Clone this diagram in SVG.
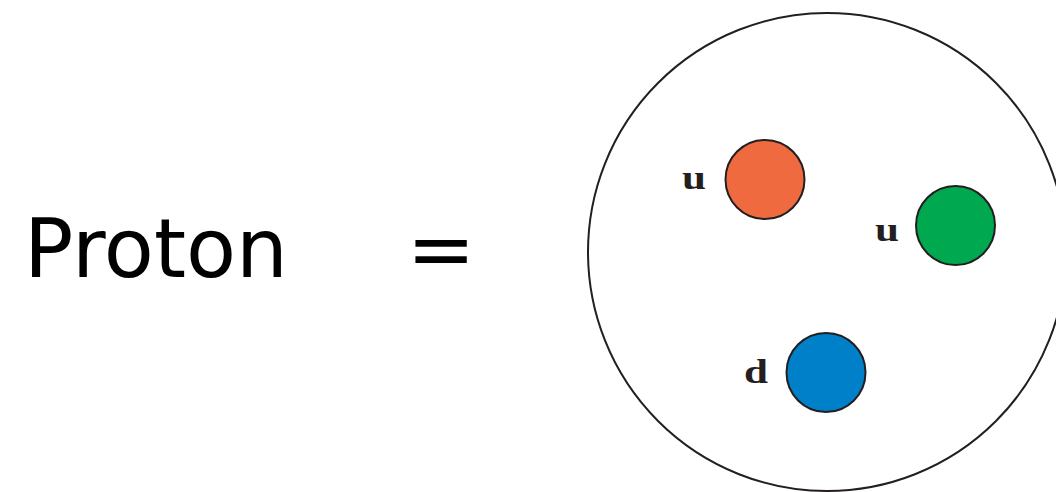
<svg xmlns="http://www.w3.org/2000/svg" width="1056" height="492" viewBox="0 0 1056 492">
<style>
.big{font-family:"DejaVu Sans",sans-serif;font-size:82px;fill:#000}
.q{font-family:"Liberation Serif","Times New Roman",serif;font-weight:bold;font-size:34px;fill:#231f20}
.ring{fill:none;stroke:#231f20;stroke-width:2}
.quark{stroke:#231f20;stroke-width:2}
</style>
<rect width="1056" height="492" fill="#fff"/>
<g id="proton-label"><text class="big" x="24" y="277" textLength="264" lengthAdjust="spacingAndGlyphs">Proton</text></g>
<g id="equals"><text class="big" x="441" y="277" text-anchor="middle">=</text></g>
<g id="proton"><circle class="ring" cx="827" cy="252" r="239"/></g>
<g id="quark-u1"><circle class="quark" cx="765" cy="179.5" r="39.5" fill="#EF6B3F"/><text class="q" x="682" y="189" textLength="24" lengthAdjust="spacingAndGlyphs">u</text></g>
<g id="quark-u2"><circle class="quark" cx="955.5" cy="225.5" r="39.5" fill="#00A94F"/><text class="q" x="875" y="241" textLength="24" lengthAdjust="spacingAndGlyphs">u</text></g>
<g id="quark-d"><circle class="quark" cx="826" cy="372.5" r="39.5" fill="#0080C8"/><text class="q" x="744" y="383" textLength="24" lengthAdjust="spacingAndGlyphs">d</text></g>
<g id="connectors"/>
</svg>
